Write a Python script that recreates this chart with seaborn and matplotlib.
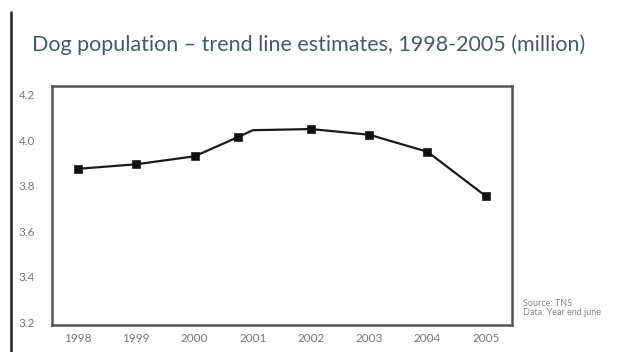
import numpy as np
import pandas as pd
import matplotlib
matplotlib.use("Agg")
import matplotlib.pyplot as plt
import seaborn as sns
from matplotlib.lines import Line2D

# 数据
years = [1998, 1999, 2000, 2000.75, 2001, 2002, 2003, 2004, 2005]
population = [3.875, 3.895, 3.93, 4.015, 4.045, 4.05, 4.025, 3.95, 3.755]
marked = [True, True, True, True, False, True, True, True, True]
tick_years = [1998, 1999, 2000, 2001, 2002, 2003, 2004, 2005]
y_ticks = [3.2, 3.4, 3.6, 3.8, 4.0, 4.2]

title = "Dog population \u2013 trend line estimates, 1998-2005 (million)"
source_text = "Source: TNS\nData: Year end june"

df = pd.DataFrame({"year": years, "population": population, "marked": marked})

sns.set_style("white")
plt.rcParams["font.family"] = ["Lato", "DejaVu Sans"]

fig = plt.figure(figsize=(6.32, 3.52), dpi=100)
ax = fig.add_axes([0.082, 0.077, 0.728, 0.679])

# 折线
sns.lineplot(data=df, x="year", y="population", ax=ax, color="#1a1a1a",
             linewidth=1.6, sort=False)
# 方形标记
sns.scatterplot(data=df[df["marked"]], x="year", y="population", ax=ax,
                marker="s", s=34, color="#111111", edgecolor="#111111", zorder=3)

ax.set_xlim(1997.55, 2005.45)
ax.set_ylim(3.188, 4.24)
ax.set_xticks(tick_years)
ax.set_xticklabels([str(y) for y in tick_years])
ax.set_yticks(y_ticks)
ax.set_yticklabels([f"{v:.1f}" for v in y_ticks])
ax.tick_params(axis="both", length=0, labelsize=8.5, colors="#777777")
ax.tick_params(axis="y", pad=12)
ax.tick_params(axis="x", pad=6)
ax.set_xlabel("")
ax.set_ylabel("")
for s in ax.spines.values():
    s.set_visible(True)
    s.set_color("#555555")
    s.set_linewidth(1.8)

# 标题
fig.text(0.051, 0.872, title, fontsize=15.5, color="#4a5a5e", ha="left", va="center")

# 来源
fig.text(0.828, 0.125, source_text, fontsize=6.5, color="#888888", ha="left",
         va="center", linespacing=1.1)

# 左侧竖线
fig.add_artist(Line2D([0.017, 0.017], [0.0, 0.965], color="#222222",
                      linewidth=1.8, transform=fig.transFigure))

fig.savefig("out.png", dpi=100)
